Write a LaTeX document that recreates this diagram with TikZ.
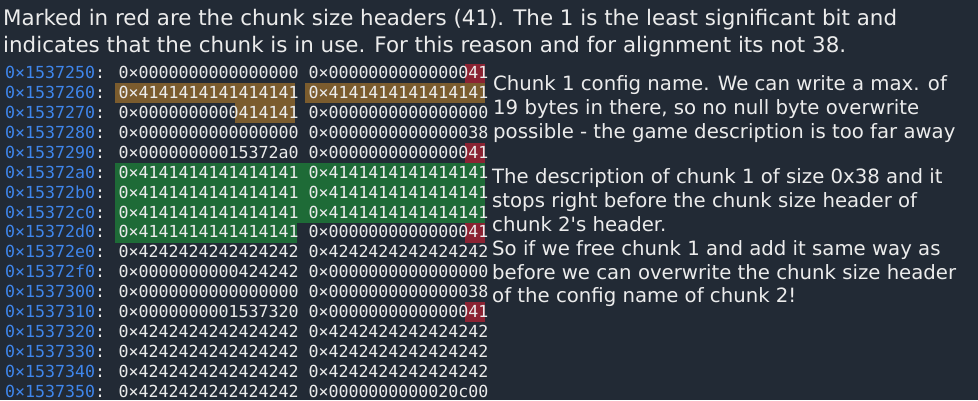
\documentclass[tikz,border=0pt]{standalone}
\usepackage{fontspec}
\setmainfont{DejaVu Sans}[Ligatures=TeXOff]
\newfontfamily\monofont{DejaVu Sans Mono}
\definecolor{bg}{HTML}{222A35}
\definecolor{addr}{HTML}{3F86EC}
\definecolor{fg}{HTML}{ECECEC}
\definecolor{hlbrown}{HTML}{7B5C2E}
\definecolor{hlgreen}{HTML}{1E6B37}
\definecolor{hlred}{HTML}{8B2232}
\tikzset{
  memrow/.style={anchor=base west, inner sep=0pt, text=fg, font=\monofont\fontsize{16.61}{20}\selectfont},
  title/.style={anchor=base west, inner sep=0pt, text=fg, font=\fontsize{21.4}{27}\selectfont},
  note/.style={anchor=base west, inner sep=0pt, text=fg, font=\fontsize{19.7}{24}\selectfont},
}
\newcommand{\adr}[1]{\textcolor{addr}{0×#1}:}
\begin{document}
\begin{tikzpicture}[x=1pt,y=-1pt]
\fill[bg] (0,0) rectangle (978,400);
\useasboundingbox (0,0) rectangle (978,400);
% row geometry: top of row i = 63.5 + 19.9 i ; char k spans 5+10k .. 15+10k
\def\rt#1{63.5+19.9*#1}
% brown highlights (chunk 1 config name)
\fill[hlbrown] (115,{\rt{1}}) rectangle (295,{\rt{2}});
\fill[hlbrown] (305,{\rt{1}}) rectangle (485,{\rt{2}});
\fill[hlbrown] (235,{\rt{2}}) rectangle (295,{\rt{3}});
% green highlights (chunk 1 description)
\fill[hlgreen] (115,{\rt{5}}) rectangle (485,{\rt{8}});
\fill[hlgreen] (115,{\rt{8}}) rectangle (297,{\rt{9}});
% red highlights (size headers)
\foreach \r in {0,4,8,12} \fill[hlred] (465,{\rt{\r}}) rectangle (485,{\rt{\r}+19.9});
% title
\node[title] (t1) at (3,25) {Marked in red are the chunk size headers (41). The 1 is the least significant bit and};
\node[title] (t2) at (3,52) {indicates that the chunk is in use. For this reason and for alignment its not 38.};
% memory rows
\foreach \i/\a/\c/\d in {
 0/1537250/0000000000000000/0000000000000041,
 1/1537260/4141414141414141/4141414141414141,
 2/1537270/0000000000414141/0000000000000000,
 3/1537280/0000000000000000/0000000000000038,
 4/1537290/00000000015372a0/0000000000000041,
 5/15372a0/4141414141414141/4141414141414141,
 6/15372b0/4141414141414141/4141414141414141,
 7/15372c0/4141414141414141/4141414141414141,
 8/15372d0/4141414141414141/0000000000000041,
 9/15372e0/4242424242424242/4242424242424242,
 10/15372f0/0000000000424242/0000000000000000,
 11/1537300/0000000000000000/0000000000000038,
 12/1537310/0000000001537320/0000000000000041,
 13/1537320/4242424242424242/4242424242424242,
 14/1537330/4242424242424242/4242424242424242,
 15/1537340/4242424242424242/4242424242424242,
 16/1537350/4242424242424242/0000000000020c00}
 \node[memrow] (row\i) at (5,{78.7+19.9*\i}) {\adr{\a} 0×\c{} 0×\d};
% notes
\node[note] (n1a) at (493,90) {Chunk 1 config name. We can write a max. of};
\node[note] (n1b) at (493,114) {19 bytes in there, so no null byte overwrite};
\node[note] (n1c) at (493,138) {possible - the game description is too far away};
\node[note] (n2a) at (492,183) {The description of chunk 1 of size 0x38 and it};
\node[note] (n2b) at (492,207) {stops right before the chunk size header of};
\node[note] (n2c) at (492,231) {chunk 2's header.};
\node[note] (n2d) at (492,255) {So if we free chunk 1 and add it same way as};
\node[note] (n2e) at (492,279) {before we can overwrite the chunk size header};
\node[note] (n2f) at (492,302) {of the config name of chunk 2!};
\end{tikzpicture}
\end{document}
